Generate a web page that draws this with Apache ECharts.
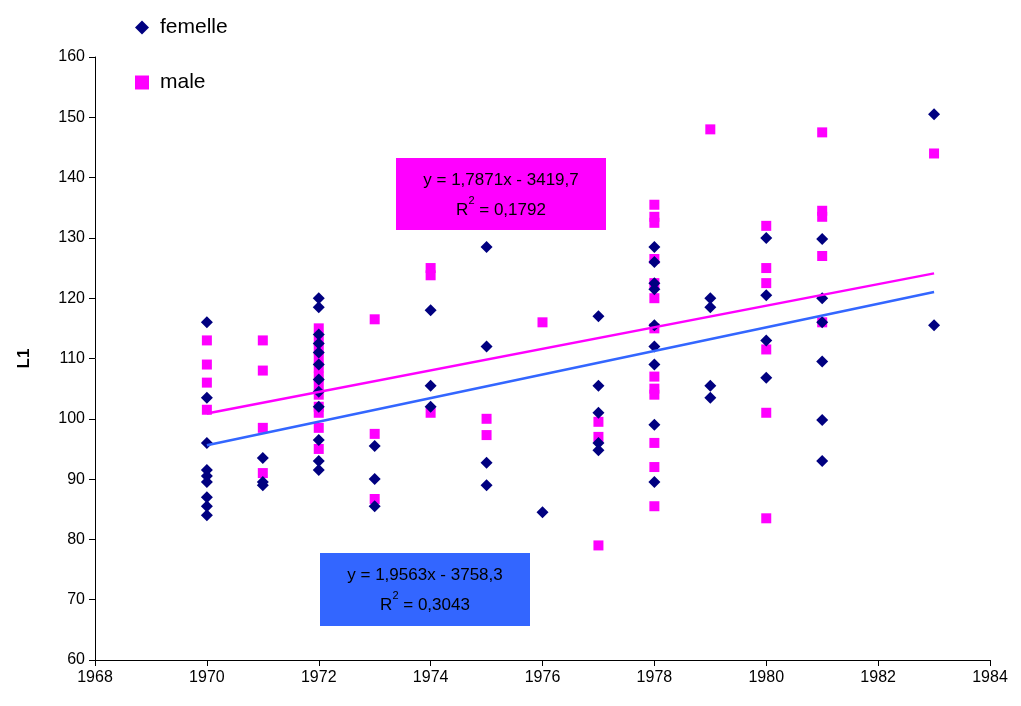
<!DOCTYPE html>
<html>
<head>
<meta charset="utf-8">
<script src="https://cdn.jsdelivr.net/npm/echarts@6/dist/echarts.min.js"></script>
<style>html,body{margin:0;padding:0;background:#fff}#chart{width:1021px;height:706px}</style>
</head>
<body>
<div id="chart"></div>
<script>
var femelle = [
    [1970,116],[1970,103.5],[1970,96],[1970,91.5],[1970,90.5],[1970,89.5],[1970,87],[1970,85.5],[1970,84],
    [1971,93.5],[1971,89.5],[1971,89],
    [1972,120],[1972,118.5],[1972,114],[1972,112.5],[1972,111],[1972,109],[1972,106.5],[1972,104.5],[1972,102],[1972,96.5],[1972,93],[1972,91.5],
    [1973,95.5],[1973,90],[1973,85.5],
    [1974,118],[1974,105.5],[1974,102],
    [1975,128.5],[1975,112],[1975,92.7],[1975,89],
    [1976,84.5],
    [1977,117],[1977,105.5],[1977,101],[1977,96],[1977,94.8],
    [1978,128.5],[1978,126],[1978,122.5],[1978,121.5],[1978,115.5],[1978,112],[1978,109],[1978,99],[1978,89.5],
    [1979,120],[1979,118.5],[1979,105.5],[1979,103.5],
    [1980,130],[1980,120.5],[1980,113],[1980,106.8],
    [1981,129.8],[1981,120],[1981,116],[1981,109.5],[1981,99.8],[1981,93],
    [1983,150.5],[1983,115.5]
];
var male = [
    [1970,113],[1970,109],[1970,106],[1970,101.5],
    [1971,113],[1971,108],[1971,98.5],[1971,91],
    [1972,115],[1972,113],[1972,111.5],[1972,110],[1972,108.5],[1972,107],[1972,105.5],[1972,104],[1972,102],[1972,101],[1972,98.5],[1972,95],
    [1973,116.5],[1973,97.5],[1973,86.7],
    [1974,125],[1974,123.8],[1974,101],
    [1975,100],[1975,97.3],
    [1976,116],
    [1977,99.5],[1977,97],[1977,79],
    [1978,135.5],[1978,133.5],[1978,132.5],[1978,126.5],[1978,122.5],[1978,120],[1978,115],[1978,107],[1978,105],[1978,104],[1978,96],[1978,92],[1978,85.5],
    [1979,148],
    [1980,132],[1980,125],[1980,122.5],[1980,111.5],[1980,101],[1980,83.5],
    [1981,147.5],[1981,134.5],[1981,133.5],[1981,127],[1981,116],
    [1983,144]
];
var trendF = {a: 1.9563, b: -3758.3, r2: '0,3043'};
var trendM = {a: 1.7871, b: -3419.7, r2: '0,1792'};
var trendRange = [1970, 1983];

function line(t) {
    return trendRange.map(function (x) { return [x, t.a * x + t.b]; });
}

var myChart = echarts.init(document.getElementById('chart'));
var rich = {n: {fontSize: 17, fill: '#000'}, s: {fontSize: 11, verticalAlign: 'top', fill: '#000'}};

option = {
    backgroundColor: '#fff',
    animation: false,
    textStyle: {fontFamily: 'Liberation Sans, Arial'},
    grid: {left: 95, right: 31, top: 57, bottom: 46},
    legend: {
        left: 130, top: 12, orient: 'vertical', itemGap: 34,
        itemWidth: 14, itemHeight: 14,
        textStyle: {fontSize: 21, color: '#000', padding: [0, 0, 0, 6]},
        data: ['femelle', 'male']
    },
    xAxis: {
        type: 'value', min: 1968, max: 1984, interval: 2,
        axisLine: {lineStyle: {color: '#000'}},
        axisTick: {lineStyle: {color: '#000'}, length: 6},
        axisLabel: {fontSize: 16, color: '#000', margin: 10, formatter: function (v) { return String(v); }},
        splitLine: {show: false}
    },
    yAxis: {
        type: 'value', min: 60, max: 160, interval: 10,
        name: 'L1', nameLocation: 'middle', nameGap: 62, nameRotate: 90,
        nameTextStyle: {fontSize: 17, fontWeight: 'bold', color: '#000'},
        axisLine: {show: true, lineStyle: {color: '#000'}},
        axisTick: {show: true, lineStyle: {color: '#000'}, length: 6},
        axisLabel: {fontSize: 16, color: '#000', margin: 10},
        splitLine: {show: false}
    },
    series: [
        {name: 'femelle', type: 'scatter', symbol: 'diamond', symbolSize: 12,
         itemStyle: {color: '#000080', opacity: 1}, data: femelle, z: 3},
        {name: 'male', type: 'scatter', symbol: 'rect', symbolSize: 10,
         itemStyle: {color: '#ff00ff', opacity: 1}, data: male, z: 2},
        {type: 'line', data: line(trendF), symbol: 'none', silent: true,
         lineStyle: {color: '#3366ff', width: 2.5}, z: 4},
        {type: 'line', data: line(trendM), symbol: 'none', silent: true,
         lineStyle: {color: '#ff00ff', width: 2.5}, z: 4}
    ],
    graphic: [
        {type: 'rect', x: 396, y: 158, shape: {width: 210, height: 72}, style: {fill: '#ff00ff'}},
        {type: 'text', x: 501, y: 165, style: {
            text: '{n|y = 1,7871x - 3419,7}\n{n|R}{s|2}{n| = ' + trendM.r2 + '}',
            align: 'center', lineHeight: 30, rich: rich
        }},
        {type: 'rect', x: 320, y: 553, shape: {width: 210, height: 73}, style: {fill: '#3366ff'}},
        {type: 'text', x: 425, y: 560, style: {
            text: '{n|y = 1,9563x - 3758,3}\n{n|R}{s|2}{n| = ' + trendF.r2 + '}',
            align: 'center', lineHeight: 30, rich: rich
        }}
    ]
};

myChart.setOption(option);
</script>
</body>
</html>
